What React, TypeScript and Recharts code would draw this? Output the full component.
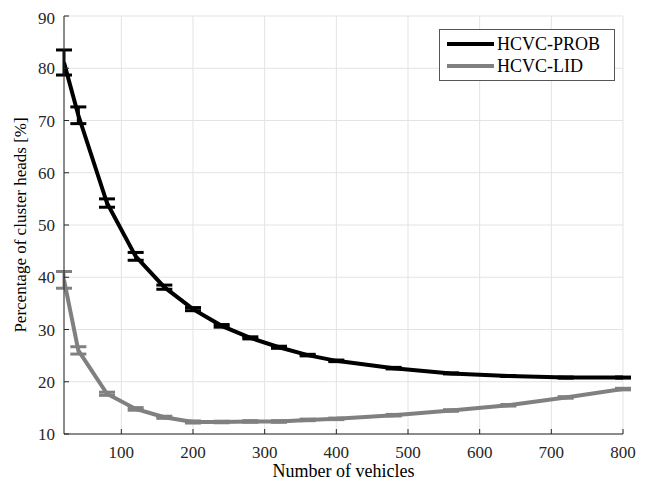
import React from 'react';
import { LineChart, Line, XAxis, YAxis, CartesianGrid, ErrorBar, Legend } from 'recharts';

// values
const vehicles = [20, 40, 80, 120, 160, 200, 240, 280, 320, 360, 400, 480, 560, 640, 720, 800];
const probMean = [81.1, 71.0, 54.2, 44.0, 38.1, 33.9, 30.7, 28.4, 26.6, 25.1, 24.0, 22.6, 21.6, 21.1, 20.8, 20.8];
const probErr = [2.4, 1.6, 0.8, 0.75, 0.4, 0.3, 0.25, 0.2, 0.2, 0.15, 0.15, 0.15, 0.1, 0.1, 0.1, 0.1];
const lidMean = [39.5, 26.0, 17.7, 14.8, 13.2, 12.3, 12.3, 12.4, 12.4, 12.7, 12.9, 13.6, 14.5, 15.5, 17.0, 18.6];
const lidErr = [1.6, 0.7, 0.3, 0.25, 0.2, 0.2, 0.15, 0.15, 0.15, 0.15, 0.15, 0.15, 0.15, 0.15, 0.15, 0.15];
const xTicks = [100, 200, 300, 400, 500, 600, 700, 800];
const yTicks = [10, 20, 30, 40, 50, 60, 70, 80, 90];
const seriesNames = ['HCVC-PROB', 'HCVC-LID'];
const seriesColors = ['#000000', '#808080'];

const data = vehicles.map((v, i) => ({
  n: v,
  prob: probMean[i],
  probErr: probErr[i],
  lid: lidMean[i],
  lidErr: lidErr[i],
}));

const FONT = '"Liberation Serif", serif';
const AXIS = '#262626';
const tickStyle = { fontSize: 17, fontFamily: FONT, fill: '#262626' };

const LegendBox = () => (
  <div
    style={{
      border: '1px solid #555',
      background: '#fff',
      padding: '3px 6px 3px 7px',
      fontFamily: FONT,
      fontSize: 18,
      color: '#000',
      lineHeight: '22px',
    }}
  >
    {seriesNames.map((name, i) => (
      <div key={name} style={{ display: 'flex', alignItems: 'center' }}>
        <span style={{ display: 'inline-block', width: 47, height: 4, background: seriesColors[i], marginRight: 3 }} />
        <span>{name}</span>
      </div>
    ))}
  </div>
);

export default function App() {
  return (
    <LineChart width={639} height={473} data={data} margin={{ top: 8, right: 24, left: 0, bottom: 0 }}>
      <CartesianGrid stroke="#e3e3e3" strokeWidth={1} />
      <XAxis
        dataKey="n"
        type="number"
        domain={[20, 800]}
        allowDataOverflow
        ticks={xTicks}
        height={47}
        tickSize={-5}
        tickMargin={17}
        tick={tickStyle}
        stroke={AXIS}
        label={{ value: 'Number of vehicles', position: 'insideBottom', offset: 4, style: { ...tickStyle, fontSize: 18, fill: '#000' } }}
      />
      <XAxis
        xAxisId="top"
        orientation="top"
        dataKey="n"
        type="number"
        domain={[20, 800]}
        ticks={xTicks}
        height={0}
        tickSize={-5}
        tickFormatter={() => ''}
        stroke={AXIS}
      />
      <YAxis
        type="number"
        domain={[10, 90]}
        ticks={yTicks}
        width={56}
        tickSize={-5}
        tickMargin={14}
        tick={tickStyle}
        stroke={AXIS}
        label={{
          value: 'Percentage of cluster heads [%]',
          angle: -90,
          position: 'insideLeft',
          offset: 12,
          style: { ...tickStyle, fill: '#000', textAnchor: 'middle' },
        }}
      />
      <YAxis
        yAxisId="right"
        orientation="right"
        type="number"
        domain={[10, 90]}
        ticks={yTicks}
        width={0}
        tickSize={-5}
        tickFormatter={() => ''}
        stroke={AXIS}
      />
      <Legend
        content={<LegendBox />}
        layout="vertical"
        verticalAlign="middle"
        align="center"
        wrapperStyle={{ top: 21, left: 431, width: 176 }}
      />
      <Line
        dataKey="prob"
        name={seriesNames[0]}
        type="linear"
        stroke={seriesColors[0]}
        strokeWidth={4}
        dot={false}
        isAnimationActive={false}
      >
        <ErrorBar dataKey="probErr" direction="y" width={8} strokeWidth={3} stroke={seriesColors[0]} />
      </Line>
      <Line
        dataKey="lid"
        name={seriesNames[1]}
        type="linear"
        stroke={seriesColors[1]}
        strokeWidth={4}
        dot={false}
        isAnimationActive={false}
      >
        <ErrorBar dataKey="lidErr" direction="y" width={8} strokeWidth={3} stroke={seriesColors[1]} />
      </Line>
    </LineChart>
  );
}
